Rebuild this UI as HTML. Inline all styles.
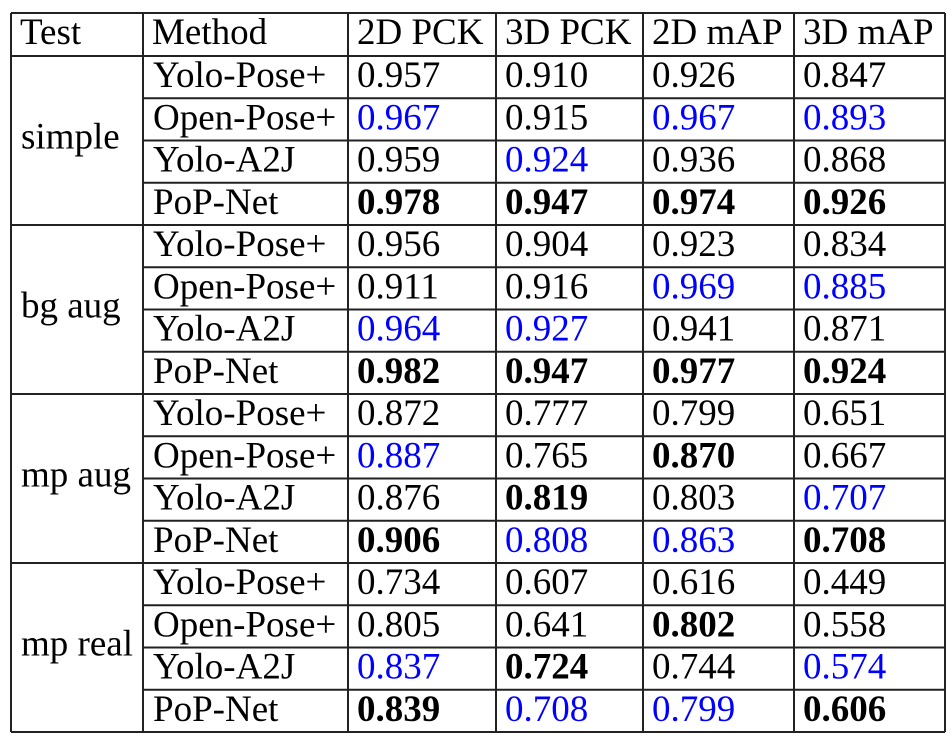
<!DOCTYPE html>
<html><head><meta charset="utf-8"><style>
html,body{margin:0;padding:0;background:#fff;}
svg text{font-family:"Liberation Serif",serif;font-size:37px;fill:#000;}
</style></head><body>
<svg width="952" height="742" viewBox="0 0 952 742">
<g id="lines" stroke="#222" stroke-width="2"></g>
<g id="texts"></g>
</svg>
<script>
const headers=["Test","Method","2D PCK","3D PCK","2D mAP","3D mAP"];
const tests=["simple","bg aug","mp aug","mp real"];
const methods=["Yolo-Pose+","Open-Pose+","Yolo-A2J","PoP-Net"];
const values=[
["0.957","0.910","0.926","0.847"],["0.967","0.915","0.967","0.893"],["0.959","0.924","0.936","0.868"],["0.978","0.947","0.974","0.926"],
["0.956","0.904","0.923","0.834"],["0.911","0.916","0.969","0.885"],["0.964","0.927","0.941","0.871"],["0.982","0.947","0.977","0.924"],
["0.872","0.777","0.799","0.651"],["0.887","0.765","0.870","0.667"],["0.876","0.819","0.803","0.707"],["0.906","0.808","0.863","0.708"],
["0.734","0.607","0.616","0.449"],["0.805","0.641","0.802","0.558"],["0.837","0.724","0.744","0.574"],["0.839","0.708","0.799","0.606"]];
const styles=[
"nnnn","cncc","ncnn","bbbb",
"nnnn","nncc","ccnn","bbbb",
"nnnn","cnbn","nbnc","bccb",
"nnnn","nnbn","cbnc","bccb"];
const colX=[11,143,348,496,643,794,945];
const tableTop=13,headH=43,rowH=42.25;
const NS="http://www.w3.org/2000/svg";
const L=document.getElementById('lines'),T=document.getElementById('texts');
function line(x1,y1,x2,y2){const l=document.createElementNS(NS,'line');l.setAttribute('x1',x1);l.setAttribute('y1',y1);l.setAttribute('x2',x2);l.setAttribute('y2',y2);


L.appendChild(l);}
function text(s,x,y,st){const t=document.createElementNS(NS,'text');t.setAttribute('x',x);t.setAttribute('y',y);t.textContent=s;
if(st==='b')t.setAttribute('font-weight','bold');if(st==='c')t.style.fill='#0000ff';


T.appendChild(t);}
const bottom=tableTop+headH+rowH*values.length;
colX.forEach(x=>line(x,tableTop,x,bottom));
line(colX[0],tableTop,colX[6],tableTop);
line(colX[0],tableTop+headH,colX[6],tableTop+headH);
for(let r=1;r<=values.length;r++){const y=tableTop+headH+rowH*r;
 if(r%4===0) line(colX[0],y,colX[6],y); else line(colX[1],y,colX[6],y);}
headers.forEach((h,i)=>text(h,colX[i]+9,tableTop+31,'n'));
tests.forEach((t,g)=>text(t,colX[0]+10,tableTop+headH+rowH*4*g+rowH*2+8,'n'));
values.forEach((row,r)=>{const y=tableTop+headH+rowH*r+31;
 text(methods[r%4],colX[1]+10,y,'n');
 row.forEach((v,c)=>text(v,colX[c+2]+9,y,styles[r][c]));});
</script>
</body></html>
